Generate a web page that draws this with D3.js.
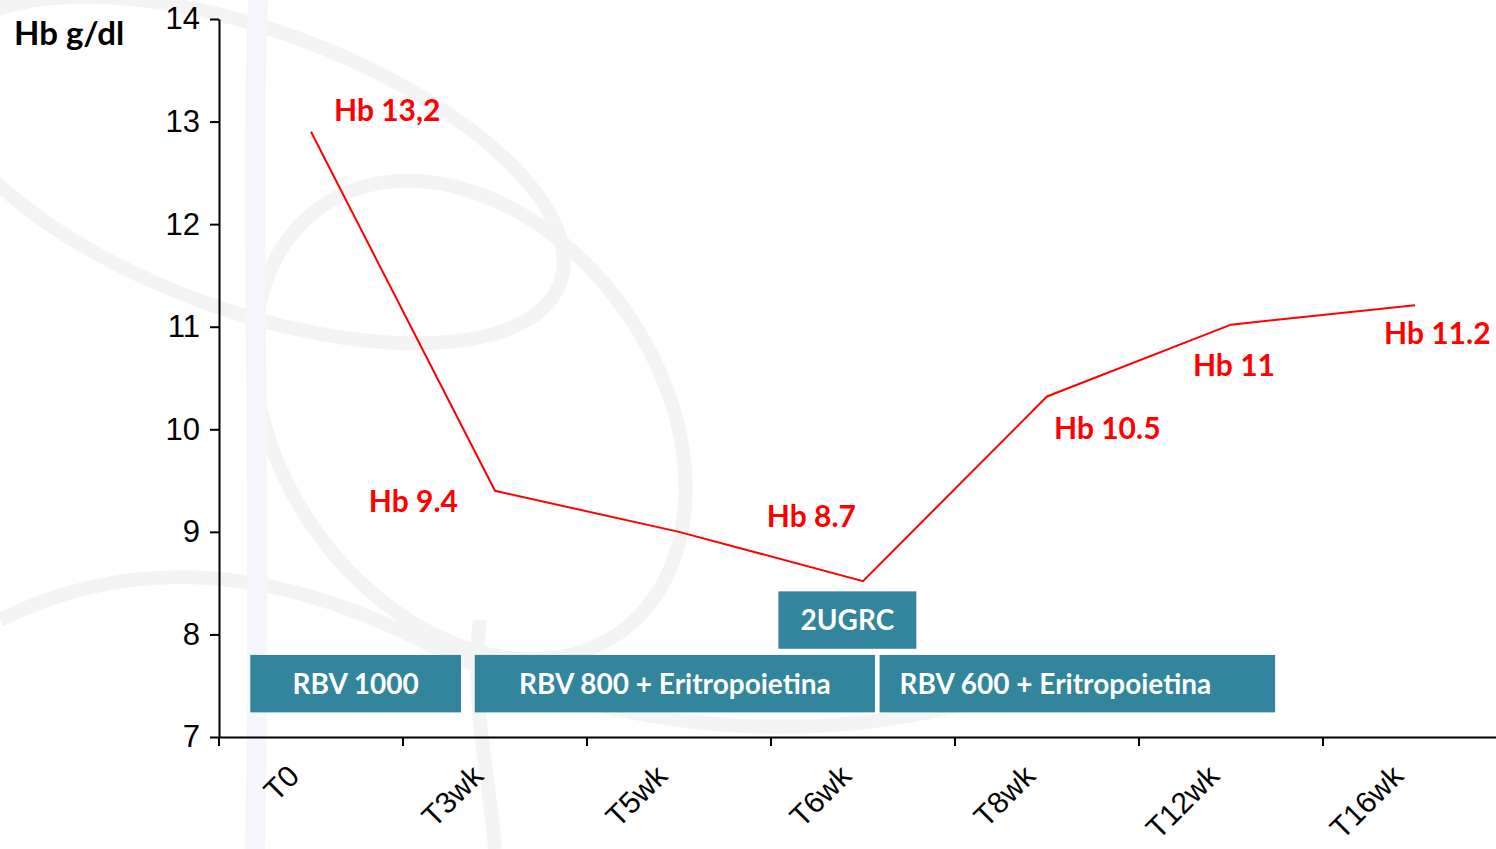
<!DOCTYPE html>
<html>
<head>
	<title>Hb</title>
	<meta charset='utf-8'>
	<style>
		body { margin: 0; background: #fff; }
		svg { font-family: Lato, 'Open Sans', sans-serif; }
		.axis path, .axis line { stroke: #000; stroke-width: 2px; }
		.axis text { fill: #000; font-size: 31px; }
		.hb-line { fill: none; stroke: #ff0000; stroke-width: 2px; }
		.hb-label { fill: #ff0000; font-size: 30px; font-weight: bold; }
		.box rect { fill: #31859c; }
		.box text { fill: #fff; font-size: 28px; font-weight: bold; }
		.wm { fill: none; stroke: #f4f4f4; stroke-width: 14px; }
	</style>
</head>
<body>
<div id="chart"></div>
<script src='https://d3js.org/d3.v7.min.js'></script>
<script>
	'use strict';

	// данные
	const categories = ['T0', 'T3wk', 'T5wk', 'T6wk', 'T8wk', 'T12wk', 'T16wk'];
	const hbValues = [12.9, 9.4, 9.0, 8.52, 10.32, 11.02, 11.21];
	const hbLabels = ['Hb 13,2', 'Hb 9.4', '', 'Hb 8.7', 'Hb 10.5', 'Hb 11', 'Hb 11.2'];
	const yTicks = [7, 8, 9, 10, 11, 12, 13, 14];
	// периоды терапии: начало/конец в индексах категорий, уровни по Hb
	const therapyNames = ['RBV 1000', 'RBV 800 + Eritropoietina', 'RBV 600 + Eritropoietina', '2UGRC'];
	const therapyStart = [-0.33, 0.89, 3.09, 2.54];
	const therapyEnd = [0.815, 3.065, 5.24, 3.29];
	const therapyTop = [7.8, 7.8, 7.8, 8.42];
	const therapyBottom = [7.24, 7.24, 7.24, 7.86];

	// смещения подписей относительно точек
	const labelDx = [23, -37, 0, -7, 7, 3, -31];
	const labelDy = [-11, 21, 0, -54, 43, 51, 39];
	const labelAnchor = ['start', 'end', 'start', 'end', 'start', 'middle', 'start'];

	const W = 1496, H = 849;
	const x0 = 219, x1 = 1507, yTop = 19, yBottom = 737;

	const svg = d3.select('#chart').append('svg')
		.attr('width', W)
		.attr('height', H);

	// водяной знак (фон)
	const wm = svg.append('g');
	wm.append('ellipse').attr('class', 'wm').attr('cx', 470).attr('cy', 420).attr('rx', 190).attr('ry', 260).attr('transform', 'rotate(-35,470,420)');
	wm.append('ellipse').attr('class', 'wm').attr('cx', 250).attr('cy', 170).attr('rx', 330).attr('ry', 140).attr('transform', 'rotate(20,250,170)');
	wm.append('path').attr('class', 'wm').attr('d', 'M0,620 C120,560 260,560 420,640 C560,710 760,760 980,700');
	wm.append('path').attr('class', 'wm').attr('d', 'M258,0 C250,200 262,500 255,849').style('stroke', '#f5f6fb').style('stroke-width', 20);
	wm.append('path').attr('class', 'wm').attr('d', 'M480,620 C470,700 490,780 495,849');

	const xScale = d3.scaleBand().domain(categories).range([x0, x1]).paddingInner(0).paddingOuter(0);
	const step = xScale.step();
	const xIdx = d3.scaleLinear().domain([-0.5, categories.length - 0.5]).range([x0, x1]);
	const yScale = d3.scaleLinear().domain([7, 14]).range([yBottom, yTop]);

	// ось Y
	svg.append('g')
		.attr('class', 'axis')
		.attr('transform', 'translate(' + x0 + ',0)')
		.call(d3.axisLeft(yScale).tickValues(yTicks).tickFormat(d3.format('d')).tickSize(9).tickSizeOuter(0).tickPadding(10));

	// ось X
	const xAxis = svg.append('g')
		.attr('class', 'axis')
		.attr('transform', 'translate(0,' + yBottom + ')')
		.call(d3.axisBottom(xScale).tickSize(0).tickSizeOuter(0).tickFormat(''));
	xAxis.selectAll('.xtick')
		.data(categories)
		.enter().append('line')
		.attr('x1', d => xScale(d)).attr('x2', d => xScale(d))
		.attr('y1', 0).attr('y2', 9);
	xAxis.selectAll('.xlab')
		.data(categories)
		.enter().append('text')
		.attr('text-anchor', 'end')
		.attr('transform', d => 'translate(' + (xScale(d) + step / 2 - 10) + ',41) rotate(-45)')
		.style('font-size', '30px')
		.text(d => d);

	// заголовок оси
	svg.append('text')
		.attr('x', 14).attr('y', 45)
		.style('font-size', '33px').style('font-weight', 'bold')
		.text('Hb g/dl');

	// блоки терапии
	const boxes = svg.selectAll('.box')
		.data(therapyNames)
		.enter().append('g')
		.attr('class', 'box');
	boxes.append('rect')
		.attr('x', (d, i) => xIdx(therapyStart[i]))
		.attr('y', (d, i) => yScale(therapyTop[i]))
		.attr('width', (d, i) => xIdx(therapyEnd[i]) - xIdx(therapyStart[i]))
		.attr('height', (d, i) => yScale(therapyBottom[i]) - yScale(therapyTop[i]));
	boxes.append('text')
		.attr('x', (d, i) => i === 2 ? xIdx(therapyStart[i]) + 20 : (xIdx(therapyStart[i]) + xIdx(therapyEnd[i])) / 2)
		.attr('y', (d, i) => (yScale(therapyTop[i]) + yScale(therapyBottom[i])) / 2 + 10)
		.attr('text-anchor', (d, i) => i === 2 ? 'start' : 'middle')
		.text(d => d);

	// линия Hb
	const pts = categories.map((c, i) => ({cat: c, v: hbValues[i], i: i}));
	const line = d3.line()
		.x(d => xScale(d.cat) + step / 2)
		.y(d => yScale(d.v));
	svg.append('path')
		.datum(pts)
		.attr('class', 'hb-line')
		.attr('d', line);

	// подписи
	svg.selectAll('.hb-label')
		.data(pts.filter(d => hbLabels[d.i] !== ''))
		.enter().append('text')
		.attr('class', 'hb-label')
		.attr('x', d => xScale(d.cat) + step / 2 + labelDx[d.i])
		.attr('y', d => yScale(d.v) + labelDy[d.i])
		.attr('text-anchor', d => labelAnchor[d.i])
		.text(d => hbLabels[d.i]);
</script>
</body>
</html>
